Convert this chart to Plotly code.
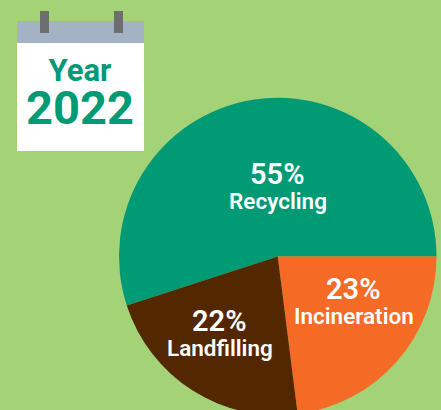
"""Waste treatment shares pie with a calendar badge."""

import plotly.graph_objects as go

# Data
categories = ["Recycling", "Incineration", "Landfilling"]
shares = [55, 23, 22]
year_title = "Year"
year_value = "2022"

# Color palette
COLORS = {
    "background": "#A4D277",
    "Recycling": "#009A74",
    "Incineration": "#F56A24",
    "Landfilling": "#532700",
    "calendar": "#FFFFFF",
    "calendar_head": "#A3B3C4",
    "calendar_ring": "#6D6E70",
}

WIDTH = 441
HEIGHT = 416  # pie runs past the bottom of the window
LABEL_FONT = "Roboto"
YEAR_FONT = "Roboto"

# label centres in pixels
LABEL_POS = {
    "Recycling": (278, 187),
    "Incineration": (354, 302),
    "Landfilling": (220, 334),
}


def px(x):
    return x / WIDTH


def py(y):
    return 1 - y / HEIGHT


def rect(x0, y0, x1, y1, color):
    return dict(
        type="rect", xref="paper", yref="paper", layer="above",
        x0=px(x0), x1=px(x1), y0=py(y0), y1=py(y1),
        fillcolor=color, line_width=0,
    )


def text(x, y, string, size, color, family, weight=700):
    return dict(
        xref="paper", yref="paper", x=px(x), y=py(y),
        xanchor="center", yanchor="middle", showarrow=False,
        text=string, font=dict(family=family, size=size, color=color, weight=weight),
    )


fig = go.Figure(
    go.Pie(
        labels=categories,
        values=shares,
        sort=False,
        direction="clockwise",
        rotation=252,
        textinfo="none",
        hoverinfo="label+percent",
        marker=dict(colors=[COLORS[c] for c in categories], line_width=0),
        domain=dict(x=[px(119), px(436.5)], y=[py(415.5), py(97.5)]),
    )
)

# one text block, so the two lines keep the tight spacing of the badge
year_block = (
    f"<span style='font-size:31px'>{year_title}</span><br>"
    f"<span style='font-size:47px'>{year_value}</span>"
)
annotations = [text(80, 93, year_block, 33, COLORS["Recycling"], YEAR_FONT)]
for cat, share in zip(categories, shares):
    x, y = LABEL_POS[cat]
    annotations.append(text(x - 0.5, y - 13.5, f"{share}%", 29, "#FFFFFF", LABEL_FONT, 600))
    annotations.append(text(x, y + 14, cat, 22.5, "#FFFFFF", LABEL_FONT, 600))

fig.update_layout(
    width=WIDTH,
    height=HEIGHT,
    margin=dict(l=0, r=0, t=0, b=0),
    paper_bgcolor=COLORS["background"],
    showlegend=False,
    shapes=[
        rect(17, 21, 144, 151, COLORS["calendar"]),
        rect(17, 21, 144, 43, COLORS["calendar_head"]),
        rect(40, 11, 49, 33, COLORS["calendar_ring"]),
        rect(114, 11, 123, 33, COLORS["calendar_ring"]),
    ],
    annotations=annotations,
)

fig.write_html(
    "out.html",
    config={"displayModeBar": False},
    post_script="document.documentElement.style.overflow='hidden';document.body.style.margin='0';document.body.style.overflow='hidden';",
)
